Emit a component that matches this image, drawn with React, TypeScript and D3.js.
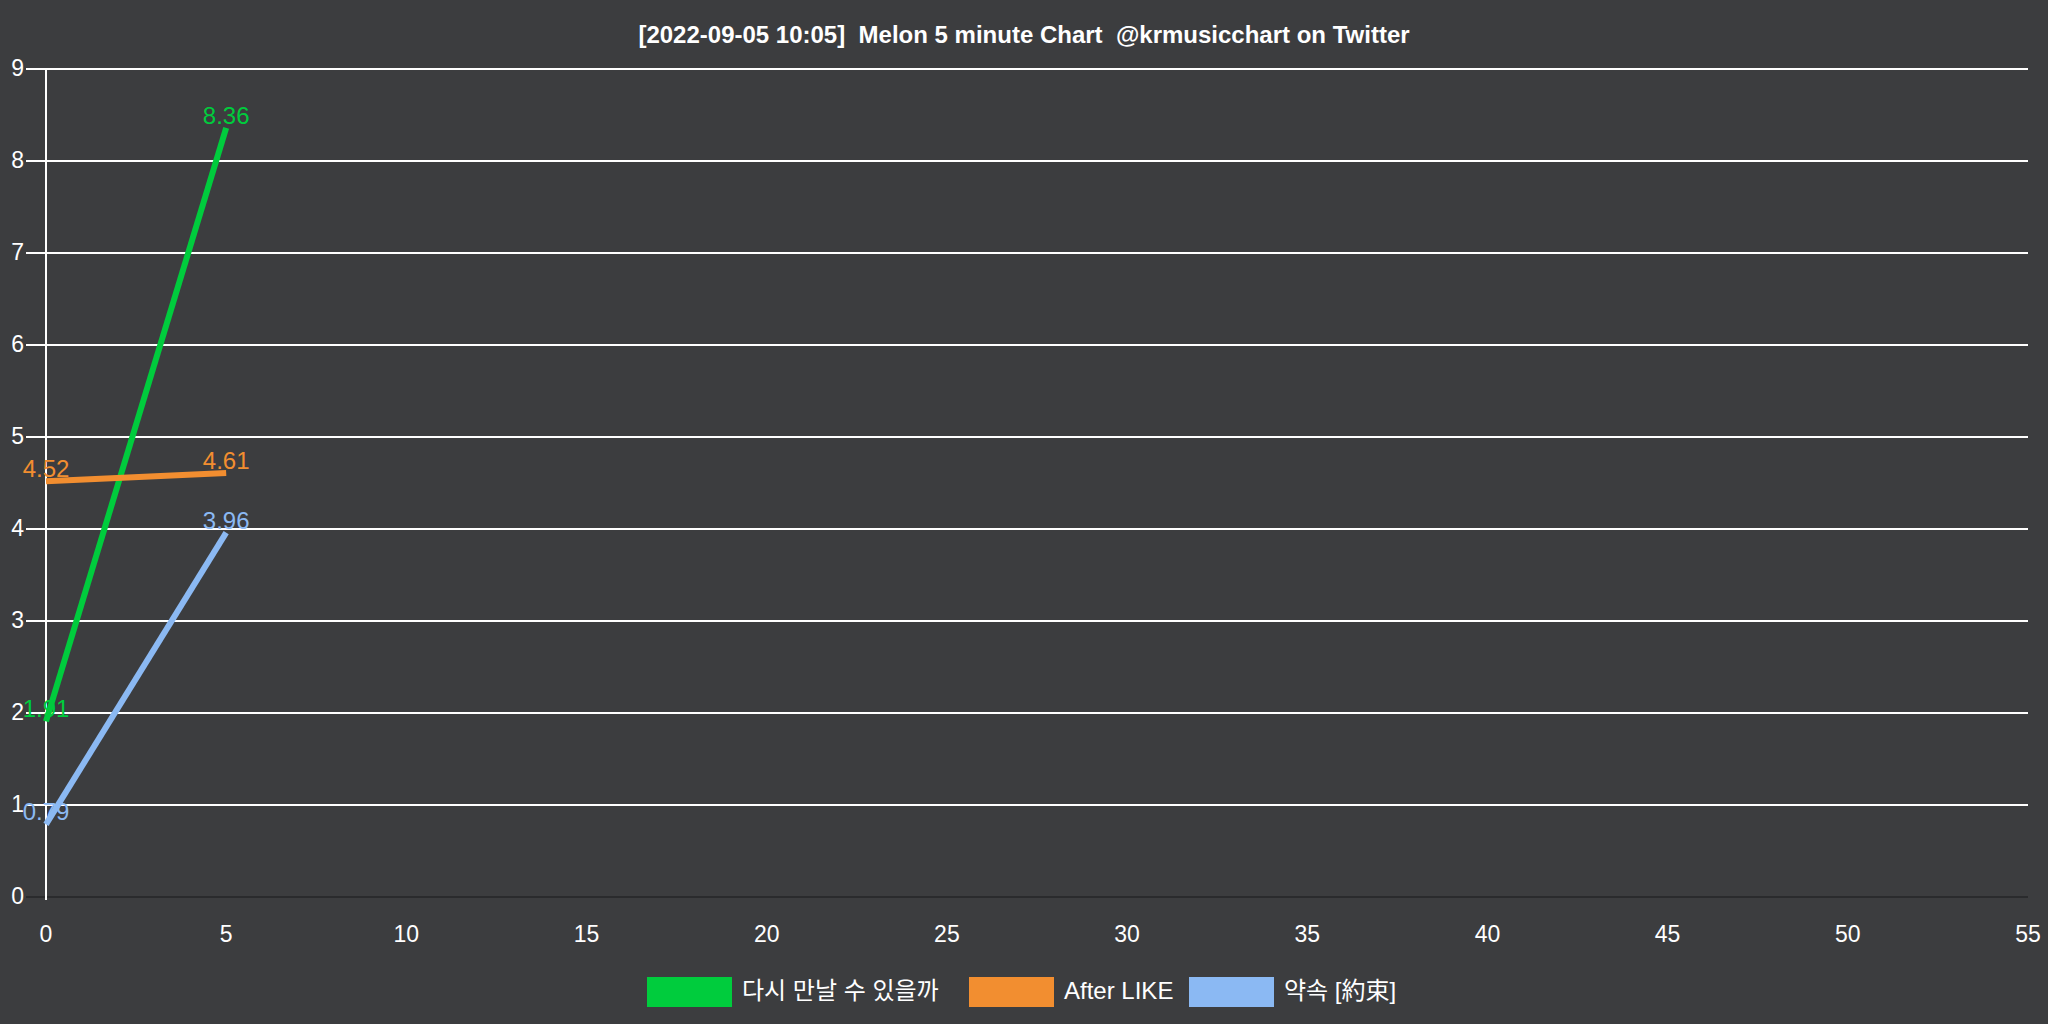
import { useEffect } from 'react'
import * as d3 from 'd3'

const W = 2048
const H = 1024
const M = { t: 69, r: 20, b: 127, l: 46 }
const BG = '#3c3d3f'
const FONT = '"Liberation Sans", Arial, sans-serif'
const CJK_FONT = '"Liberation Sans", Arial, "Noto Sans CJK KR", sans-serif'

const TITLE = '[2022-09-05 10:05]  Melon 5 minute Chart  @krmusicchart on Twitter'
const minutes = [0, 5]
const seriesNames = ['다시 만날 수 있을까', 'After LIKE', '약속 [約束]']
const seriesColors = ['#00cc3d', '#f28e30', '#8bb9f3']
const greenValues = [1.91, 8.36]
const orangeValues = [4.52, 4.61]
const blueValues = [0.79, 3.96]
const seriesValues = [greenValues, orangeValues, blueValues]
const xTicks = d3.range(0, 56, 5)
const yTicks = d3.range(0, 10, 1)

export default function App() {
  useEffect(() => {
    document.body.style.margin = '0'
    document.body.style.background = BG
  }, [])

  const x = d3.scaleLinear().domain([0, 55]).range([M.l, W - M.r])
  const y = d3.scaleLinear().domain([0, 9]).range([H - M.b, M.t])
  const line = d3.line<number>().x((_, i) => x(minutes[i])).y((v) => y(v))

  const legendX = [647, 969, 1189]

  return (
    <svg width={W} height={H} style={{ display: 'block', background: BG }} fontFamily={FONT}>
      <rect width={W} height={H} fill={BG} />
      <text x={W / 2} y={36.5} textAnchor="middle" dominantBaseline="middle" fill="#fff" fontSize={24} fontWeight="bold" style={{ whiteSpace: 'pre' }}>{TITLE}</text>

      {yTicks.filter((t) => t > 0).map((t) => (
        <line key={t} x1={M.l - 20} x2={x(55)} y1={y(t)} y2={y(t)} stroke="#fff" strokeWidth={2} />
      ))}
      <line x1={M.l - 20} x2={x(55)} y1={y(0)} y2={y(0)} stroke="#2a2b2d" strokeWidth={2} />
      <line x1={M.l} x2={M.l} y1={y(9)} y2={y(0) + 3} stroke="#fff" strokeWidth={2} />

      {yTicks.map((t) => (
        <text key={t} x={M.l - 22} y={y(t) + 1} textAnchor="end" dominantBaseline="middle" fill="#fff" fontSize={23}>{t}</text>
      ))}
      {xTicks.map((t) => (
        <text key={t} x={x(t)} y={936} textAnchor="middle" dominantBaseline="middle" fill="#fff" fontSize={23}>{t}</text>
      ))}

      {seriesValues.map((vals, s) => (
        <path key={s} d={line(vals) ?? ''} fill="none" stroke={seriesColors[s]} strokeWidth={6} />
      ))}
      {seriesValues.map((vals, s) =>
        vals.map((v, i) => (
          <text key={`${s}-${i}`} x={x(minutes[i])} y={y(v) - 4} textAnchor="middle" fill={seriesColors[s]} fontSize={24}>{v.toFixed(2)}</text>
        ))
      )}

      {seriesNames.map((name, s) => (
        <g key={name} transform={`translate(${legendX[s]},977)`}>
          <rect width={85} height={30} fill={seriesColors[s]} />
          <text x={95} y={16} dominantBaseline="middle" fill="#fff" fontSize={24} fontFamily={CJK_FONT}>{name}</text>
        </g>
      ))}
    </svg>
  )
}
